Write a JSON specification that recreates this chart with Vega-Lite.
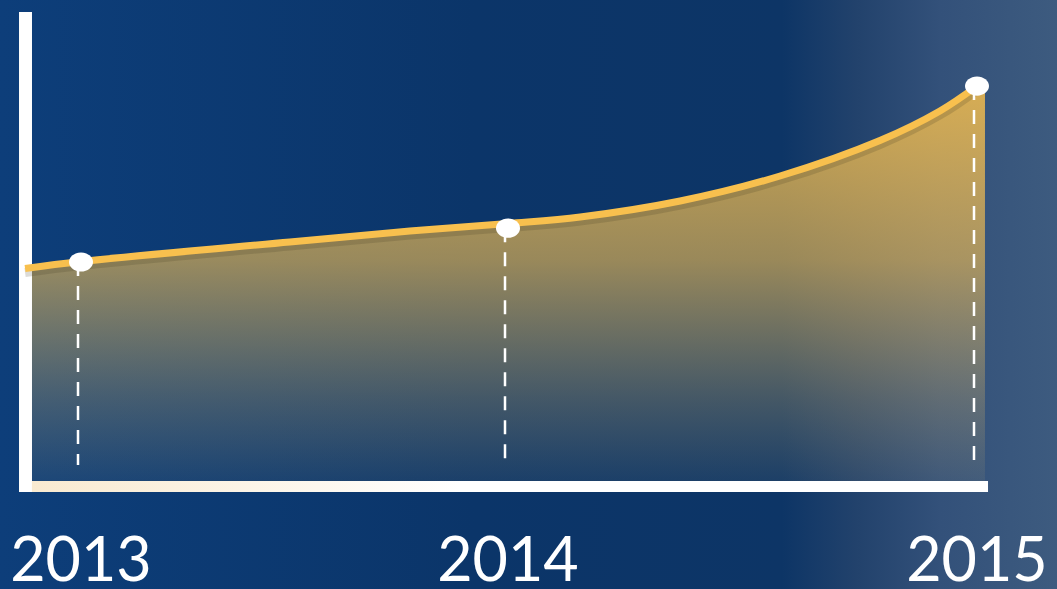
{
  "$schema": "https://vega.github.io/schema/vega-lite/v6.json",
  "width": 1057,
  "height": 589,
  "autosize": {"type": "none"},
  "padding": 0,
  "background": "#0c3a74",
  "config": {"view": {"stroke": null}},
  "datasets": {
    "points": [
      {"year": 2013, "value": 46.7, "label": "2013"},
      {"year": 2014, "value": 53.9, "label": "2014"},
      {"year": 2015, "value": 84.2, "label": "2015"}
    ],
    "curve": [
      {"year": 2012.869, "value": 45.31},
      {"year": 2013.0, "value": 46.8},
      {"year": 2013.489, "value": 50.96},
      {"year": 2013.77, "value": 53.3},
      {"year": 2014.0, "value": 54.9},
      {"year": 2014.154, "value": 56.29},
      {"year": 2014.367, "value": 59.7},
      {"year": 2014.58, "value": 65.03},
      {"year": 2014.793, "value": 72.6},
      {"year": 2014.921, "value": 78.9},
      {"year": 2015.0, "value": 84.22}
    ],
    "fillcurve": [
      {"year": 2012.885, "value": 45.5},
      {"year": 2013.0, "value": 46.8},
      {"year": 2013.489, "value": 50.96},
      {"year": 2013.77, "value": 53.3},
      {"year": 2014.0, "value": 54.9},
      {"year": 2014.154, "value": 56.29},
      {"year": 2014.367, "value": 59.7},
      {"year": 2014.58, "value": 65.03},
      {"year": 2014.793, "value": 72.6},
      {"year": 2014.921, "value": 78.9},
      {"year": 2015.0, "value": 84.22},
      {"year": 2015.017, "value": 85.6}
    ],
    "bars": [
      {"part": "yaxis", "x1": 2012.855, "x2": 2012.885, "y1": 100, "y2": -2.35},
      {"part": "xaxis", "x1": 2012.881, "x2": 2015.0235, "y1": 0, "y2": -2.35}
    ]
  },
  "layer": [
    {
      "data": {"values": [{"bg": 1}]},
      "mark": {
        "type": "rect",
        "fill": {
          "gradient": "linear",
          "x1": 0, "y1": 0, "x2": 1, "y2": 0,
          "stops": [
            {"offset": 0, "color": "#0d3e7a"},
            {"offset": 0.45, "color": "#0b3569"},
            {"offset": 0.74, "color": "#0d3566"},
            {"offset": 0.81, "color": "#22426c"},
            {"offset": 0.89, "color": "#33517a"},
            {"offset": 1, "color": "#3d5b7f"}
          ]
        }
      },
      "encoding": {}
    },
    {
      "data": {"name": "fillcurve"},
      "mark": {
        "type": "area",
        "interpolate": "catmull-rom",
        "fill": {
          "gradient": "linear",
          "x1": 0, "y1": 0, "x2": 0, "y2": 1,
          "stops": [
            {"offset": 0, "color": "rgba(246,190,76,0.85)"},
            {"offset": 0.45, "color": "rgba(240,188,82,0.62)"},
            {"offset": 0.8, "color": "rgba(225,185,100,0.26)"},
            {"offset": 1, "color": "rgba(215,185,110,0.08)"}
          ]
        }
      },
      "encoding": {
        "x": {"field": "year", "type": "quantitative", "scale": {"domain": [2013, 2014, 2015], "range": [81, 508, 977], "nice": false, "zero": false}, "axis": null},
        "y": {"field": "value", "type": "quantitative", "scale": {"domain": [0, 100], "range": [481, 12], "nice": false, "zero": false}, "axis": null},
        "y2": {"datum": 0}
      }
    },
    {
      "data": {"name": "bars"},
      "mark": {
        "type": "rect",
        "fill": {
          "gradient": "linear",
          "x1": 0, "y1": 0, "x2": 1, "y2": 0,
          "stops": [
            {"offset": 0, "color": "#f9ead0"},
            {"offset": 0.3, "color": "#fdf8ef"},
            {"offset": 0.45, "color": "#ffffff"},
            {"offset": 1, "color": "#ffffff"}
          ]
        }
      },
      "encoding": {
        "x": {"field": "x1", "type": "quantitative"},
        "x2": {"field": "x2"},
        "y": {"field": "y1", "type": "quantitative"},
        "y2": {"field": "y2"}
      }
    },
    {
      "data": {"name": "bars"},
      "transform": [{"filter": "datum.part == 'yaxis'"}],
      "mark": {"type": "rect", "fill": "#ffffff"},
      "encoding": {
        "x": {"field": "x1", "type": "quantitative"},
        "x2": {"field": "x2"},
        "y": {"field": "y1", "type": "quantitative"},
        "y2": {"field": "y2"}
      }
    },
    {
      "data": {"name": "curve"},
      "mark": {"type": "line", "interpolate": "catmull-rom", "stroke": "#3b3522", "strokeWidth": 9, "opacity": 0.18, "yOffset": 4},
      "encoding": {
        "x": {"field": "year", "type": "quantitative"},
        "y": {"field": "value", "type": "quantitative"}
      }
    },
    {
      "data": {"name": "curve"},
      "mark": {"type": "line", "interpolate": "catmull-rom", "stroke": "#f8c04e", "strokeWidth": 7, "strokeCap": "butt"},
      "encoding": {
        "x": {"field": "year", "type": "quantitative"},
        "y": {"field": "value", "type": "quantitative"}
      }
    },
    {
      "data": {"name": "points"},
      "mark": {"type": "rule", "stroke": "#ffffff", "strokeWidth": 2.5, "strokeDash": [14, 10], "xOffset": -3},
      "encoding": {
        "x": {"field": "year", "type": "quantitative"},
        "y": {"field": "value", "type": "quantitative"},
        "y2": {"datum": 3.4}
      }
    },
    {
      "data": {"name": "points"},
      "mark": {"type": "point", "shape": "M-1,0A1,0.8,0,1,0,1,0A1,0.8,0,1,0,-1,0Z", "filled": true, "fill": "#ffffff", "opacity": 1, "size": 576, "strokeWidth": 0},
      "encoding": {
        "x": {"field": "year", "type": "quantitative"},
        "y": {"field": "value", "type": "quantitative"}
      }
    },
    {
      "data": {"name": "points"},
      "mark": {"type": "text", "font": "Lato", "fontSize": 61, "fill": "#ffffff", "align": "center", "baseline": "alphabetic"},
      "encoding": {
        "x": {"field": "year", "type": "quantitative"},
        "y": {"datum": -21.3},
        "text": {"field": "label"}
      }
    }
  ]
}
